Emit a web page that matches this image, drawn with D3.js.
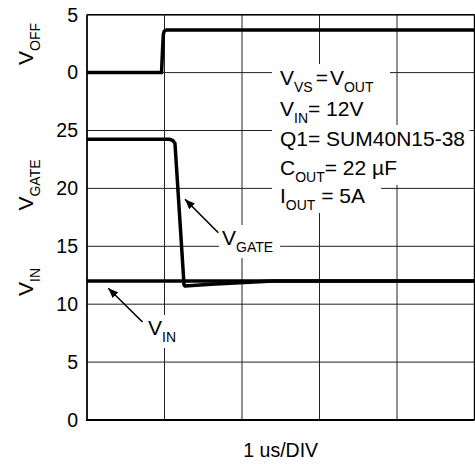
<!DOCTYPE html>
<html><head><meta charset="utf-8">
<script src="https://cdn.jsdelivr.net/npm/d3@7"></script>
<style>
html,body{margin:0;padding:0;background:#fff;}
svg{display:block;font-family:"Liberation Sans",Arial,sans-serif;}
</style></head>
<body>
<svg id="c" width="475" height="464"></svg>
<script>
// ---- data ----
const timeTicks = [0, 1, 2, 3, 4, 5];            // us (divisions)
const lowerTicks = [0, 5, 10, 15, 20, 25];       // V (VGATE / VIN scale)
const offTicks = [0, 5];                         // V (VOFF scale)
const gridLevels = [0, 5, 10, 15, 20, 25, 30, 35];

const tOff = [0, 0.962, 0.975, 0.985, 0.995, 1.01, 1.03, 5];
const vOff = [0, 0, 2.0, 3.3, 3.55, 3.65, 3.68, 3.68];

const tGate = [0, 1.07, 1.11, 1.135, 1.252, 1.265, 1.6, 1.97, 2.4, 5];
const vGate = [24.24, 24.24, 24.12, 23.9, 11.66, 11.57, 11.72, 11.86, 12.0, 12.0];

const tIn = [0, 5];
const vIn = [12, 12];

const notes = [
  [["V",""],["VS","sub"],["=","",3],["V","",2],["OUT","sub"]],
  [["V",""],["IN","sub"],["= 12V",""]],
  [["Q1= SUM40N15-38",""]],
  [["C",""],["OUT","sub"],["= 22 µF",""]],
  [["I",""],["OUT","sub"],[" = 5A",""]]
];

// ---- layout ----
const L = 87, R = 474.5, T = 14.7, B = 420;
const svg = d3.select("#c");
const x = d3.scaleLinear().domain([0, 5]).range([L, R]);
const y = d3.scaleLinear().domain([0, 35]).range([B, T]);
const yOff = d3.scaleLinear().domain([0, 5]).range([y(30), y(35)]);

// grid
const g = svg.append("g");
g.selectAll(".h").data(gridLevels).join("line")
  .attr("x1", L).attr("x2", R).attr("y1", d => y(d)).attr("y2", d => y(d))
  .attr("stroke", "#222").attr("stroke-width", 1);
g.selectAll(".v").data(timeTicks).join("line")
  .attr("y1", T).attr("y2", B).attr("x1", d => x(d)).attr("x2", d => x(d))
  .attr("stroke", "#222").attr("stroke-width", 1);

// helper: rich text with subscripts
function rich(sel, parts, size, subSize, subDy) {
  let prevSub = false;
  parts.forEach(p => {
    const [txt, kind, dx] = p;
    const t = sel.append("tspan").text(txt);
    if (kind === "sub") {
      t.attr("font-size", subSize).attr("dy", prevSub ? 0 : subDy);
      prevSub = true;
    } else {
      t.attr("font-size", size).attr("dy", prevSub ? -subDy : 0);
      prevSub = false;
    }
    if (dx) t.attr("dx", dx);
  });
}

// annotation block
const bgLayer = svg.append("g");
const traceLayer = svg.append("g");
const textLayer = svg.append("g");
const baselines = [85, 116, 146, 175, 203];
notes.forEach((parts, i) => {
  const t = textLayer.append("text").attr("x", 280).attr("y", baselines[i]).attr("fill", "#000");
  rich(t, parts, 21, 14, 7);
  const bb = t.node().getBBox();
  const x0 = bb.x - 8, x1 = Math.min(bb.x + bb.width + 16, R - 5);
  const y0 = baselines[i] - 21, y1 = baselines[i] + 10;
  bgLayer.append("rect").attr("x", x0).attr("y", y0)
    .attr("width", x1 - x0).attr("height", y1 - y0).attr("fill", "#fff");
});

// label boxes for V_GATE and V_IN
function label(xp, yp, main, sub) {
  const t = textLayer.append("text").attr("x", xp).attr("y", yp);
  rich(t, [[main, ""], [sub, "sub"]], 21, 14, 7);
  const bb = t.node().getBBox();
  bgLayer.append("rect").attr("x", bb.x - 3).attr("y", bb.y - 1)
    .attr("width", bb.width + 10).attr("height", bb.height + 4).attr("fill", "#fff");
}
label(222, 245, "V", "GATE");
label(148, 335, "V", "IN");

// traces
const line = (ys) => d3.line().x(d => x(d[0])).y(d => ys(d[1]));
const draw = (ts, vs, ys) => traceLayer.append("path")
  .attr("d", line(ys)(ts.map((t, i) => [t, vs[i]])))
  .attr("fill", "none").attr("stroke", "#000").attr("stroke-width", 3.5)
  .attr("stroke-linejoin", "round");
draw(tIn, vIn, y);
draw(tGate, vGate, y);
draw(tOff, vOff, yOff);

// border
svg.append("line").attr("x1", L).attr("x2", R).attr("y1", T).attr("y2", T).attr("stroke", "#000").attr("stroke-width", 1.6);
svg.append("line").attr("x1", L - 1).attr("x2", R).attr("y1", B).attr("y2", B).attr("stroke", "#000").attr("stroke-width", 2);
svg.append("line").attr("x1", L).attr("x2", L).attr("y1", T).attr("y2", B).attr("stroke", "#000").attr("stroke-width", 1.6);
svg.append("line").attr("x1", R).attr("x2", R).attr("y1", T).attr("y2", B).attr("stroke", "#000").attr("stroke-width", 1.4);

// arrows
svg.append("defs").append("marker").attr("id", "ah")
  .attr("viewBox", "0 0 10 8").attr("refX", 10).attr("refY", 4)
  .attr("markerWidth", 10).attr("markerHeight", 8).attr("markerUnits", "userSpaceOnUse")
  .attr("orient", "auto")
  .append("path").attr("d", "M0,0 L10,4 L0,8 Z").attr("fill", "#000");
const arrows = [[218.3, 232.7, 185, 199.3], [142.5, 322, 108.3, 288.3]];
svg.selectAll(".arr").data(arrows).join("line")
  .attr("x1", d => d[0]).attr("y1", d => d[1]).attr("x2", d => d[2]).attr("y2", d => d[3])
  .attr("stroke", "#000").attr("stroke-width", 1.6).attr("marker-end", "url(#ah)");

// tick labels
svg.selectAll(".tl").data(lowerTicks).join("text")
  .attr("x", 78).attr("y", d => y(d)).attr("dy", "0.35em")
  .attr("text-anchor", "end").attr("font-size", 19.5).text(d => d);
svg.selectAll(".to").data(offTicks).join("text")
  .attr("x", 78).attr("y", d => yOff(d)).attr("dy", "0.35em")
  .attr("text-anchor", "end").attr("font-size", 19.5).text(d => d);

// axis titles (rotated)
function vtitle(cy, main, sub) {
  const t = svg.append("text").attr("transform", `translate(33,${cy}) rotate(-90)`)
    .attr("text-anchor", "middle");
  rich(t, [[main, ""], [sub, "sub"]], 21, 14, 7);
}
vtitle(44, "V", "OFF");
vtitle(185, "V", "GATE");
vtitle(282, "V", "IN");

// x label
svg.append("text").attr("x", (L + R) / 2).attr("y", 457).attr("text-anchor", "middle")
  .attr("font-size", 19.5).text("1 us/DIV");
</script>
</body></html>
